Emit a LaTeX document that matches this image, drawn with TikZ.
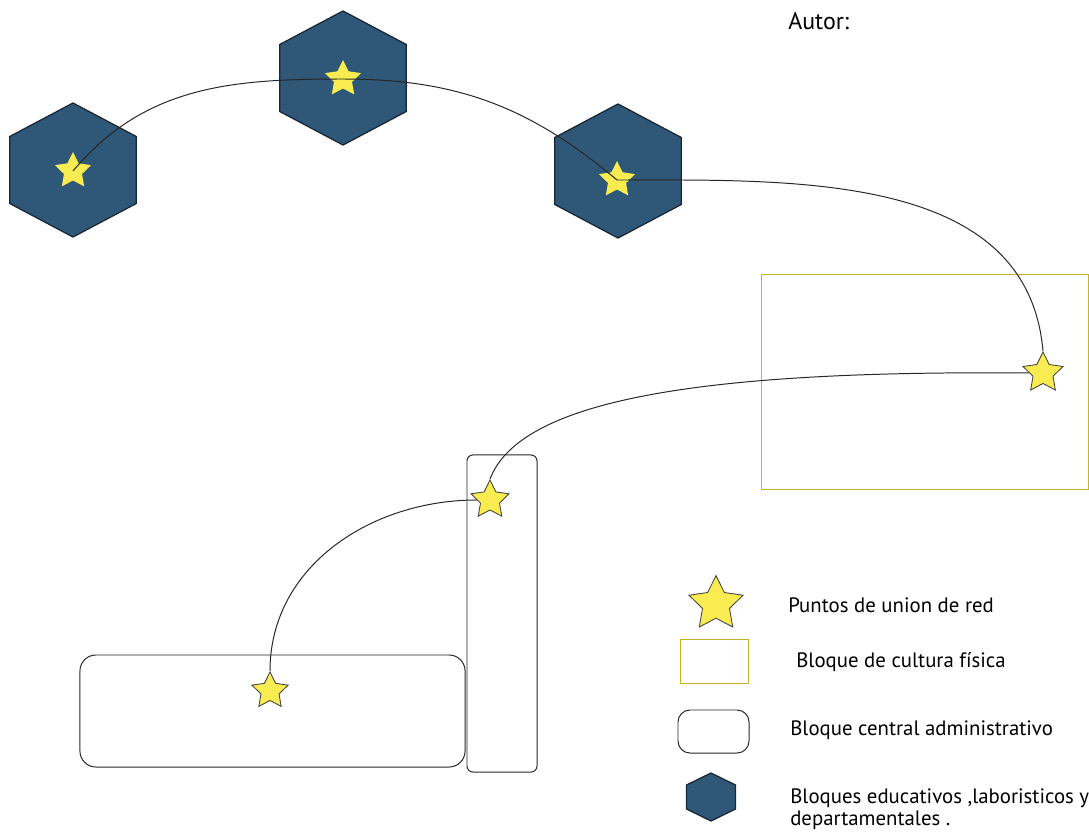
\documentclass[tikz,border=0pt]{standalone}
\usepackage{fontspec}
\setmainfont{PT Sans}
\usepackage{tikz}
\usetikzlibrary{shapes.geometric, positioning}
\definecolor{hexblue}{RGB}{47,88,120}
\definecolor{hexedge}{RGB}{25,38,52}
\definecolor{staryellow}{RGB}{248,236,80}
\definecolor{culturaedge}{RGB}{200,178,40}
\tikzstyle{hexblock} = [regular polygon, regular polygon sides=6, shape border rotate=30, inner sep=0pt, minimum size=3.35cm, xscale=1.09, draw=hexedge, line width=0.9pt, fill=hexblue]
\tikzstyle{junction} = [star, star points=5, star point ratio=2.0, inner sep=0pt, minimum size=1.05cm, draw=black!75, line width=0.6pt, fill=staryellow]
\tikzstyle{cultura} = [rectangle, draw=culturaedge, line width=0.7pt]
\tikzstyle{central} = [rectangle, rounded corners=0.4cm, draw=black!85, line width=0.7pt]
\tikzstyle{link} = [black!85, line width=0.7pt]
\tikzstyle{legendtext} = [anchor=west, inner sep=0pt, font=\fontsize{14.8}{15.8}\selectfont, align=left]

\begin{document}
\begin{tikzpicture}[x=0.025cm, y=-0.025cm]
\useasboundingbox (0,0) rectangle (1089,834);

% Bloques
\node (cultura) [cultura, minimum width=8.15cm, minimum height=5.35cm] at (925,382) {};
\node (wide) [central, minimum width=9.625cm, minimum height=2.8cm] at (272.5,711) {};
\node (tall) [central, rounded corners=0.15cm, minimum width=1.75cm, minimum height=7.925cm] at (502,613.5) {};
\node (hexa) [hexblock] at (73,170) {};
\node (hexb) [hexblock] at (343,78) {};
\node (hexc) [hexblock] at (618,171) {};

% Puntos de union
\node (pa) [junction, minimum size=0.95cm, draw=none] at (73,171) {};
\node (pb) [junction, minimum size=0.95cm, draw=none] at (343,79) {};
\node (pc) [junction, minimum size=0.95cm, draw=none] at (617,180) {};
\node (pd) [junction] at (1043,373) {};
\node (pe) [junction, minimum size=1cm] at (490,500) {};
\node (pf) [junction, minimum size=0.95cm] at (270,691) {};

% Red
\draw [link] (pa.center) to[out=50, in=180] (pb.center);
\draw [link] (pb.center) to[out=0, in=140] (pc.center);
\draw [link] (pc.center) to[out=0, in=95] (pd.north);
\draw [link] (pd.west) .. controls (700,370) and (520,400) .. (pe.north);
\draw [link] (pe.west) to[out=180, in=90] (pf.north);

% Leyenda
\node (autor) [legendtext, font=\fontsize{17}{18}\selectfont] at (788,21) {Autor:};
\node (legstar) [junction, minimum size=1.42cm] at (716,604) {};
\node (legcultura) [cultura, minimum width=1.7cm, minimum height=1.1cm] at (714.5,661) {};
\node (legcentral) [central, rounded corners=0.3cm, minimum width=1.775cm, minimum height=1.075cm] at (713.5,731.5) {};
\node (leghex) [hexblock, minimum size=1.2cm, xscale=1.08] at (711,797) {};
\node (tstar) [legendtext] at (788,605) {Puntos de union de red};
\node (tcultura) [legendtext] at (796,662) {Bloque de cultura física};
\node (tcentral) [legendtext] at (790,730) {Bloque central administrativo};
\node (thex) [legendtext] at (790,809) {Bloques educativos ,laboristicos y\\departamentales .};

\end{tikzpicture}
\end{document}
